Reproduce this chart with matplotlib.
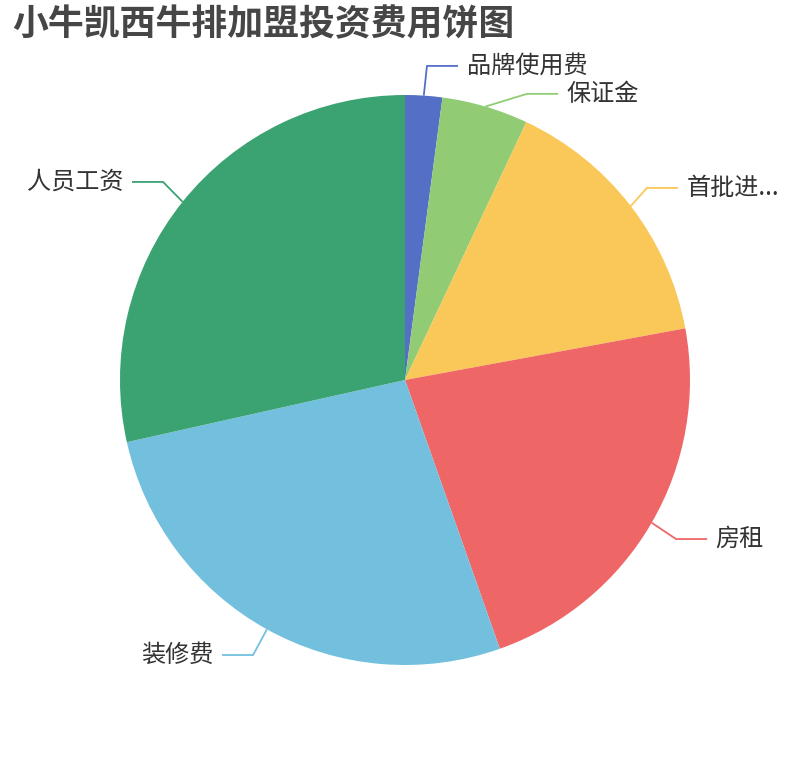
import numpy as np
import matplotlib
matplotlib.use('Agg')
import matplotlib.pyplot as plt

plt.rcParams['font.family'] = ['Noto Sans CJK SC', 'DejaVu Sans']

# data (share of total)
names = ['品牌使用费', '保证金', '首批进...', '房租', '装修费', '人员工资']
values = [2.1, 4.9, 15.1, 22.5, 26.9, 28.5]
colors = ['#5470c6', '#91cc75', '#fac858', '#ee6666', '#73c0de', '#3ba272']

# label line elbow points (pie radius units), as laid out in the reference
elbows = [(0.077, 1.102), (0.428, 1.004), (0.849, 0.674),
          (0.951, -0.558), (-0.533, -0.965), (-0.849, 0.695)]

fig = plt.figure(figsize=(8.1, 7.6), dpi=100)
R = 285
cx, cy = 405, 380
ax = fig.add_axes([(cx - R) / 810, (760 - cy - R) / 760, 2 * R / 810, 2 * R / 760])

wedges, _ = ax.pie(values, colors=colors, startangle=90, counterclock=False,
                   radius=1, wedgeprops=dict(linewidth=0))
ax.set_xlim(-1, 1)
ax.set_ylim(-1, 1)
ax.set_aspect('equal')
ax.axis('off')

hlen = 0.109
gap = 0.03
for w, name, col, (ex, ey) in zip(wedges, names, colors, elbows):
    mid = np.deg2rad((w.theta1 + w.theta2) / 2)
    sx, sy = np.cos(mid), np.sin(mid)
    side = 1 if ex >= 0 else -1
    hx = ex + side * hlen
    ax.plot([sx, ex, hx], [sy, ey, ey], color=col, lw=1.3,
            solid_capstyle='butt', clip_on=False)
    ax.text(hx + side * gap, ey, name, fontsize=17.4, color='#333333',
            ha='left' if side > 0 else 'right', va='center', clip_on=False)

fig.text(12 / 810, 1 - 25 / 760, '小牛凯西牛排加盟投资费用饼图', fontsize=25.8,
         fontweight='bold', color='#464646', ha='left', va='center')

fig.savefig('out.png', dpi=100, facecolor='white')
